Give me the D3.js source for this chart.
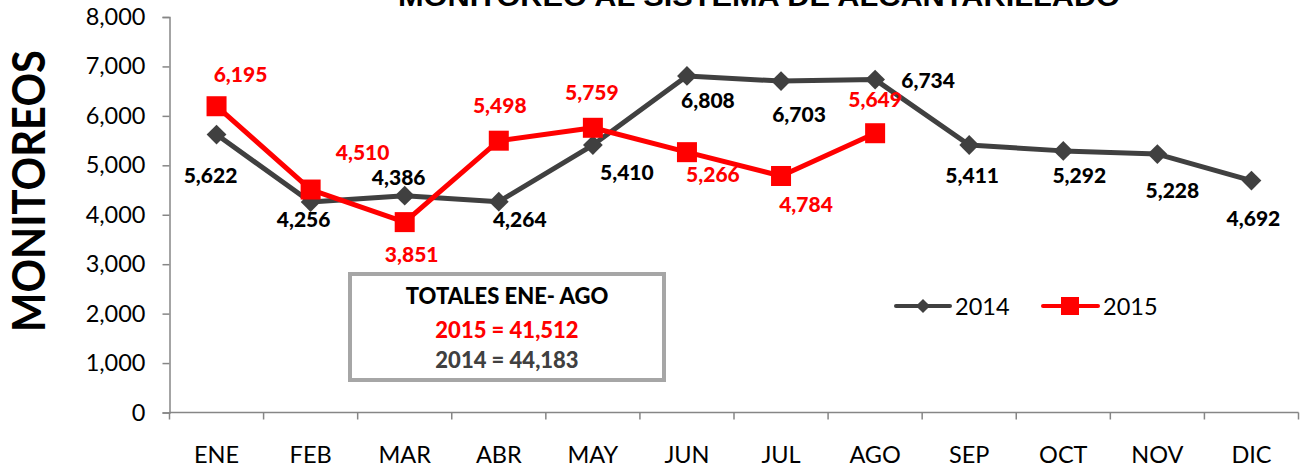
<!DOCTYPE html>
<html>
<head>
<meta charset="utf-8">
<script src="https://cdn.jsdelivr.net/npm/d3@7"></script>
<style>
  body { margin: 0; background: #fff; }
  text { font-family: Lato, "Open Sans", sans-serif; }
</style>
</head>
<body>
<script>
  var w = 1301, h = 467;

  var months = ["ENE", "FEB", "MAR", "ABR", "MAY", "JUN", "JUL", "AGO", "SEP", "OCT", "NOV", "DIC"];
  var values2014 = [5622, 4256, 4386, 4264, 5410, 6808, 6703, 6734, 5411, 5292, 5228, 4692];
  var values2015 = [6195, 4510, 3851, 5498, 5759, 5266, 4784, 5649];
  var yTicks = [0, 1000, 2000, 3000, 4000, 5000, 6000, 7000, 8000];
  var totals = ["TOTALES ENE- AGO", "2015 = 41,512", "2014 = 44,183"];

  // where each data label sits relative to its marker [dx, dy of baseline]
  var labelPos2014 = [[-6, 48], [-7, 25], [-6, -11], [21, 25], [34, 35], [21, 32], [18, 41], [53, 8], [3, 38], [16, 32], [15, 44], [2, 45]];
  var labelPos2015 = [[24, -24], [52, -30], [7, 40], [1, -28], [-1, -28], [26, 30], [25, 36], [0, -26]];

  var grey = "#404040", red = "#ff0000", axisCol = "#868686";

  var svg = d3.select("body").append("svg")
    .attr("width", w)
    .attr("height", h);

  var x = d3.scaleBand().domain(months).range([169.5, 1298.5]);
  var y = d3.scaleLinear().domain([0, 8000]).range([412.5, 17]);
  var fmt = d3.format(",");

  // title (cut off at the top, as in the original)
  svg.append("text")
    .attr("x", 759).attr("y", 6)
    .attr("text-anchor", "middle")
    .style("font-family", "'Liberation Sans', Arial, sans-serif")
    .attr("font-weight", "bold")
    .attr("font-size", 27)
    .attr("textLength", 722)
    .attr("lengthAdjust", "spacingAndGlyphs")
    .text("MONITOREO AL SISTEMA DE ALCANTARILLADO");

  // y axis title
  svg.append("text")
    .attr("transform", "translate(45,191) rotate(-90)")
    .attr("text-anchor", "middle")
    .attr("font-weight", "bold")
    .attr("font-size", 46)
    .attr("textLength", 282)
    .attr("lengthAdjust", "spacingAndGlyphs")
    .text("MONITOREOS");

  // y axis
  var yAxis = d3.axisLeft(y).tickValues(yTicks).tickSize(7).tickPadding(17).tickFormat(fmt);
  svg.append("g")
    .attr("transform", "translate(169.5,0)")
    .call(yAxis)
    .call(function (g) {
      g.select(".domain").attr("stroke", axisCol).attr("stroke-width", 1.5);
      g.selectAll(".tick line").attr("stroke", axisCol).attr("stroke-width", 1.5);
      g.selectAll(".tick text").attr("font-family", null).attr("font-size", 23.5).attr("fill", "#000");
    });

  // x axis: ticks on the band edges
  var xg = svg.append("g").attr("transform", "translate(0,412.5)");
  xg.append("line")
    .attr("x1", x.range()[0]).attr("x2", x.range()[1])
    .attr("stroke", axisCol).attr("stroke-width", 1.5);
  xg.selectAll(".edge")
    .data(d3.range(months.length + 1))
    .enter().append("line")
    .attr("x1", function (i) { return x.range()[0] + i * x.step(); })
    .attr("x2", function (i) { return x.range()[0] + i * x.step(); })
    .attr("y1", 0).attr("y2", 7)
    .attr("stroke", axisCol).attr("stroke-width", 1.5);
  xg.selectAll(".mlab")
    .data(months)
    .enter().append("text")
    .attr("x", function (d) { return x(d) + x.bandwidth() / 2; })
    .attr("y", 50)
    .attr("text-anchor", "middle")
    .attr("font-size", 23.5)
    .text(function (d) { return d; });

  function cx(i) { return x(months[i]) + x.bandwidth() / 2; }

  var line = d3.line()
    .x(function (d, i) { return cx(i); })
    .y(function (d) { return y(d); });

  // 2014
  svg.append("path")
    .datum(values2014)
    .attr("fill", "none").attr("stroke", grey).attr("stroke-width", 5)
    .attr("stroke-linejoin", "round")
    .attr("d", line);
  svg.selectAll(".d14")
    .data(values2014)
    .enter().append("rect")
    .attr("x", -7).attr("y", -7).attr("width", 14).attr("height", 14)
    .attr("fill", grey)
    .attr("transform", function (d, i) { return "translate(" + cx(i) + "," + y(d) + ") rotate(45)"; });

  // 2015
  svg.append("path")
    .datum(values2015)
    .attr("fill", "none").attr("stroke", red).attr("stroke-width", 5)
    .attr("stroke-linejoin", "round")
    .attr("d", line);
  svg.selectAll(".s15")
    .data(values2015)
    .enter().append("rect")
    .attr("x", function (d, i) { return cx(i) - 10; })
    .attr("y", function (d) { return y(d) - 10; })
    .attr("width", 20).attr("height", 20)
    .attr("fill", red);

  // data labels
  svg.selectAll(".l14")
    .data(values2014)
    .enter().append("text")
    .attr("x", function (d, i) { return cx(i) + labelPos2014[i][0]; })
    .attr("y", function (d, i) { return y(d) + labelPos2014[i][1]; })
    .attr("text-anchor", "middle")
    .attr("font-weight", 900).attr("font-size", 21)
    .attr("fill", "#000")
    .text(function (d) { return fmt(d); });
  svg.selectAll(".l15")
    .data(values2015)
    .enter().append("text")
    .attr("x", function (d, i) { return cx(i) + labelPos2015[i][0]; })
    .attr("y", function (d, i) { return y(d) + labelPos2015[i][1]; })
    .attr("text-anchor", "middle")
    .attr("font-weight", 900).attr("font-size", 21)
    .attr("fill", red)
    .text(function (d) { return fmt(d); });

  // totals box
  svg.append("rect")
    .attr("x", 350).attr("y", 274).attr("width", 314).attr("height", 106)
    .attr("fill", "#fff").attr("stroke", "#a6a6a6").attr("stroke-width", 4);
  var totCols = ["#000", red, grey];
  var totY = [304, 338, 368];
  svg.selectAll(".tot")
    .data(totals)
    .enter().append("text")
    .attr("x", 507)
    .attr("y", function (d, i) { return totY[i]; })
    .attr("text-anchor", "middle")
    .attr("font-weight", 900).attr("font-size", 22)
    .attr("fill", function (d, i) { return totCols[i]; })
    .text(function (d) { return d; });

  // legend
  var legend = svg.append("g");
  legend.append("line").attr("x1", 896).attr("x2", 950).attr("y1", 306).attr("y2", 306)
    .attr("stroke", grey).attr("stroke-width", 4).attr("stroke-linecap", "round");
  legend.append("rect").attr("x", -5).attr("y", -5).attr("width", 10).attr("height", 10)
    .attr("fill", grey).attr("transform", "translate(923,306) rotate(45)");
  legend.append("text").attr("x", 955).attr("y", 314.5).attr("font-size", 23.5).text("2014");
  legend.append("line").attr("x1", 1043).attr("x2", 1098).attr("y1", 306).attr("y2", 306)
    .attr("stroke", red).attr("stroke-width", 4).attr("stroke-linecap", "round");
  legend.append("rect").attr("x", 1061).attr("y", 297).attr("width", 18).attr("height", 18)
    .attr("fill", red);
  legend.append("text").attr("x", 1103).attr("y", 314.5).attr("font-size", 23.5).text("2015");
</script>
</body>
</html>
